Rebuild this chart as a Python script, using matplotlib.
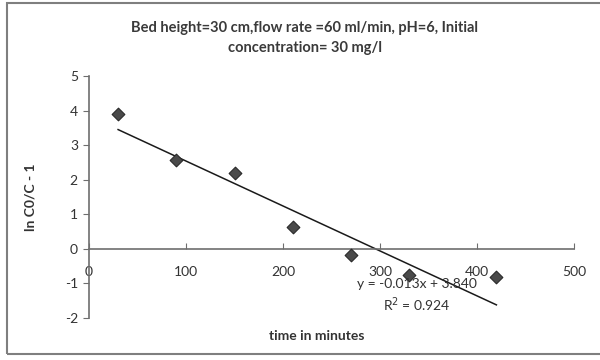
import matplotlib
matplotlib.use("Agg")
import matplotlib.pyplot as plt
from matplotlib.patches import Rectangle
import numpy as np

# data
time_min = [30, 90, 150, 210, 270, 330, 420]
ln_ratio = [3.9, 2.57, 2.2, 0.62, -0.17, -0.76, -0.8]
slope = -0.013
intercept = 3.840
r_squared = 0.924
x_ticks = [0, 100, 200, 300, 400, 500]
y_ticks = [-2, -1, 0, 1, 2, 3, 4, 5]

plt.rcParams['font.family'] = ['Lato', 'DejaVu Sans']
plt.rcParams['axes.unicode_minus'] = False

fig = plt.figure(figsize=(6, 3.6), dpi=100)
fig.patch.set_facecolor('white')
# chart frame
fig.patches.append(Rectangle((7/600, 6/360), 1.2, 1 - 3/360 - 6/360, transform=fig.transFigure,
                             fill=False, edgecolor='#7f7f7f', linewidth=1.5))

ax = fig.add_axes([89/600, 1 - 318/360, (574 - 89)/600, (318 - 76)/360])
ax.set_xlim(0, 500)
ax.set_ylim(-2, 5)

axis_color = '#6e6e6e'
for s in ['top', 'right']:
    ax.spines[s].set_visible(False)
ax.spines['bottom'].set_position(('data', 0))
ax.spines['left'].set_color(axis_color)
ax.spines['bottom'].set_color(axis_color)
ax.spines['left'].set_linewidth(1.2)
ax.spines['bottom'].set_linewidth(1.2)

ax.set_xticks(x_ticks)
ax.set_yticks(y_ticks)
ax.tick_params(axis='y', direction='out', length=4, color=axis_color, labelsize=10,
               labelcolor='#333333', pad=4)
ax.tick_params(axis='x', direction='in', length=4, color=axis_color, labelsize=10,
               labelcolor='#333333', pad=12)

# data points
ax.scatter(time_min, ln_ratio, marker='D', s=42, color='#4a4a4a', edgecolor='#2a2a2a',
           linewidth=0.8, zorder=3)

# linear trendline
xs = np.array([min(time_min), max(time_min)])
ax.plot(xs, slope * xs + intercept, color='#1a1a1a', linewidth=1.1, zorder=2)

ax.text(0.676, 0.091, f"y = {slope:.3f}x + {intercept:.3f}\nR$^2$ = {r_squared:.3f}",
        transform=ax.transAxes, ha='center', va='center', fontsize=10, color='#333333',
        linespacing=1.35)

ax.set_xlabel('time in minutes', fontsize=10, fontweight='bold', color='#333333')
ax.xaxis.set_label_coords(0.47, -0.05)
ax.set_ylabel('ln C0/C - 1', fontsize=10, fontweight='bold', color='#333333')
ax.yaxis.set_label_coords(-0.108, 0.5)

fig.text(0.508, 0.894, 'Bed height=30 cm,flow rate =60 ml/min, pH=6, Initial\nconcentration= 30 mg/l',
         ha='center', va='center', fontsize=10.5, fontweight='bold', color='#3a3a3a',
         linespacing=1.55)

fig.savefig('out.png', dpi=100, facecolor='white')
